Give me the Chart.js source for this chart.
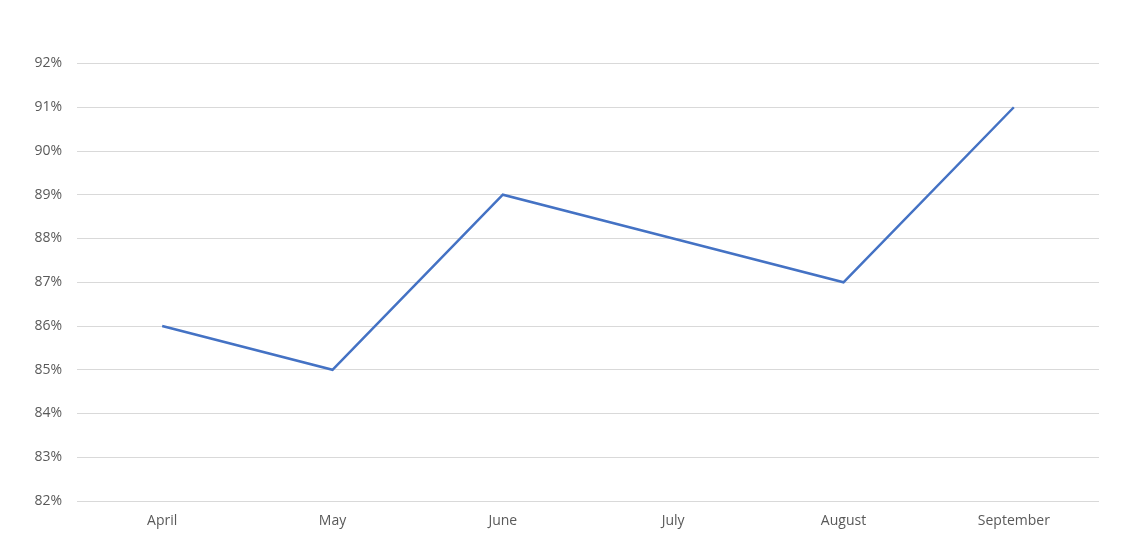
<!DOCTYPE html>
<html>
<head>
<meta charset="utf-8">
<script src="https://cdn.jsdelivr.net/npm/chart.js@4"></script>
<style>
  html, body { margin: 0; padding: 0; background: #fff; }
  #wrap { width: 1127px; height: 551px; position: relative; }
</style>
</head>
<body>
<div id="wrap"><canvas id="lineChart"></canvas></div>
<script>
const months = ['April', 'May', 'June', 'July', 'August', 'September'];
const rates = [86, 85, 89, 88, 87, 91];
const yMin = 82;
const yMax = 92;

const ctx = document.getElementById('lineChart').getContext('2d');
new Chart(ctx, {
  type: 'line',
  data: {
    labels: months,
    datasets: [{
      data: rates,
      borderColor: '#4472C4',
      borderWidth: 2.5,
      pointRadius: 0,
      tension: 0,
      fill: false
    }]
  },
  options: {
    responsive: true,
    maintainAspectRatio: false,
    animation: false,
    layout: { padding: { top: 63.5, right: 28, left: 0, bottom: 0 } },
    plugins: { legend: { display: false }, tooltip: { enabled: false } },
    scales: {
      x: {
        offset: true,
        grid: { display: false, drawTicks: false },
        border: { display: false },
        ticks: {
          color: '#595959',
          padding: 12,
          font: { family: 'Open Sans', size: 14 }
        },
        afterFit(scale) { scale.height = 50; }
      },
      y: {
        min: yMin,
        max: yMax,
        grid: { color: '#d9d9d9', lineWidth: 1, drawTicks: false },
        border: { display: false },
        ticks: {
          stepSize: 1,
          color: '#595959',
          padding: 15,
          font: { family: 'Open Sans', size: 14 },
          callback: v => v + '%'
        },
        afterFit(scale) { scale.width = 77; }
      }
    }
  }
});
</script>
</body>
</html>
